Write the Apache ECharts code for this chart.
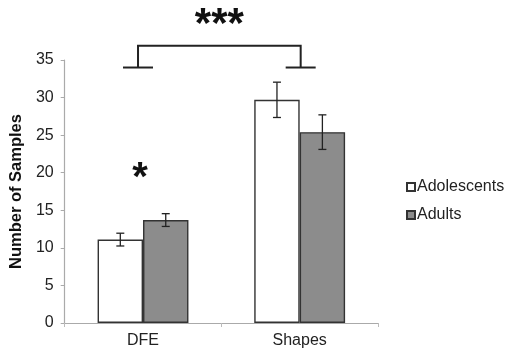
<!DOCTYPE html>
<html>
<head>
<meta charset="utf-8">
<script src="https://cdn.jsdelivr.net/npm/echarts@6/dist/echarts.min.js"></script>
<style>html,body{margin:0;padding:0;background:#fff;}#c{width:509px;height:354px;}</style>
</head>
<body>
<div id="c"></div>
<script>
var categories = ['DFE', 'Shapes'];
var adolescents = [11.1, 29.7];
var adults = [13.7, 25.4];
var adolescentsErr = [0.85, 2.35];
var adultsErr = [0.85, 2.3];
var yTicks = [0, 5, 10, 15, 20, 25, 30, 35];
var bracketFoot = 34;
var bracketTop = 36.9;
var singleStarValue = 19.2;
var tripleStarValue = 39.6;

var FONT = 'Liberation Sans';
var GAP = 0.42;

function errRender(errs, side) {
  return function (params, api) {
    var idx = api.value(0);
    var v = api.value(1);
    var e = api.value(2);
    var band = api.size([1, 0])[0];
    var bw = band * (1 - GAP) / 2;
    var c = api.coord([idx, v]);
    var x = c[0] + side * bw / 2;
    var yHi = api.coord([idx, v + e])[1];
    var yLo = api.coord([idx, v - e])[1];
    var cap = 4;
    var st = { stroke: '#222', lineWidth: 1.3 };
    return {
      type: 'group',
      children: [
        { type: 'line', shape: { x1: x, y1: yHi, x2: x, y2: yLo }, style: st },
        { type: 'line', shape: { x1: x - cap, y1: yHi, x2: x + cap, y2: yHi }, style: st },
        { type: 'line', shape: { x1: x - cap, y1: yLo, x2: x + cap, y2: yLo }, style: st }
      ]
    };
  };
}

var chart = echarts.init(document.getElementById('c'));
chart.setOption({
  animation: false,
  textStyle: { fontFamily: FONT },
  grid: { left: 63, right: 131, top: 60, bottom: 31 },
  legend: {
    orient: 'vertical',
    left: 406,
    top: 179,
    itemWidth: 8,
    itemHeight: 8,
    itemGap: 12,
    padding: 0,
    icon: 'rect',
    textStyle: { fontSize: 16, color: '#222', fontFamily: FONT, padding: [0, 0, 0, -3] },
    data: ['Adolescents', 'Adults']
  },
  xAxis: {
    type: 'category',
    data: categories,
    axisLine: { lineStyle: { color: '#aaa', width: 1.2 } },
    axisTick: { show: true, length: 4, lineStyle: { color: '#bbb' } },
    axisLabel: { fontSize: 16, color: '#222', margin: 10, fontFamily: FONT }
  },
  yAxis: {
    type: 'value',
    min: 0,
    max: 35,
    interval: 5,
    name: 'Number of Samples',
    nameLocation: 'middle',
    nameGap: 32,
    nameTextStyle: { fontSize: 16.5, fontWeight: 'bold', color: '#111', fontFamily: FONT },
    axisLine: { show: true, lineStyle: { color: '#aaa', width: 1.2 } },
    axisTick: { show: true, length: 4, lineStyle: { color: '#aaa' } },
    splitLine: { show: false },
    axisLabel: {
      fontSize: 16, color: '#222', margin: 11, fontFamily: FONT,
      formatter: function (v) { return yTicks.indexOf(v) >= 0 ? String(v) : ''; }
    }
  },
  series: [
    {
      name: 'Adolescents',
      type: 'bar',
      data: adolescents,
      barGap: '0%',
      barCategoryGap: (GAP * 100) + '%',
      itemStyle: { color: '#ffffff', borderColor: '#333', borderWidth: 1.4 }
    },
    {
      name: 'Adults',
      type: 'bar',
      data: adults,
      barGap: '0%',
      barCategoryGap: (GAP * 100) + '%',
      itemStyle: { color: '#8c8c8c', borderColor: '#333', borderWidth: 1.4 }
    },
    {
      type: 'custom',
      renderItem: errRender(adolescentsErr, -1),
      data: adolescents.map(function (v, i) { return [i, v, adolescentsErr[i]]; }),
      z: 10, silent: true, clip: false
    },
    {
      type: 'custom',
      renderItem: errRender(adultsErr, 1),
      data: adults.map(function (v, i) { return [i, v, adultsErr[i]]; }),
      z: 10, silent: true, clip: false
    },
    {
      type: 'custom',
      clip: false,
      silent: true,
      z: 10,
      data: [[0, 1]],
      renderItem: function (params, api) {
        var a = api.coord([0, bracketFoot]);
        var b = api.coord([1, bracketFoot]);
        var top = api.coord([0, bracketTop])[1];
        var xl = a[0] - 5, xr = b[0] + 1;
        var foot = 15;
        var st = { stroke: '#222', lineWidth: 2, fill: null };
        var s1 = api.coord([0, singleStarValue]);
        var s3y = api.coord([0, tripleStarValue])[1];
        var s3x = (a[0] + b[0]) / 2;
        return {
          type: 'group',
          children: [
            { type: 'polyline', shape: { points: [[xl, a[1]], [xl, top], [xr, top], [xr, a[1]]] }, style: st },
            { type: 'line', shape: { x1: xl - foot, y1: a[1], x2: xl + foot, y2: a[1] }, style: st },
            { type: 'line', shape: { x1: xr - foot, y1: a[1], x2: xr + foot, y2: a[1] }, style: st },
            { type: 'text', x: s1[0] - 3, y: s1[1], style: { text: '*', fontSize: 40, fontWeight: 'bold', fontFamily: FONT, fill: '#111', align: 'center', verticalAlign: 'middle' } },
            { type: 'text', x: s3x - 2, y: s3y, style: { text: '***', fontSize: 42, fontWeight: 'bold', fontFamily: FONT, fill: '#111', align: 'center', verticalAlign: 'middle' } }
          ]
        };
      }
    }
  ]
});
</script>
</body>
</html>
